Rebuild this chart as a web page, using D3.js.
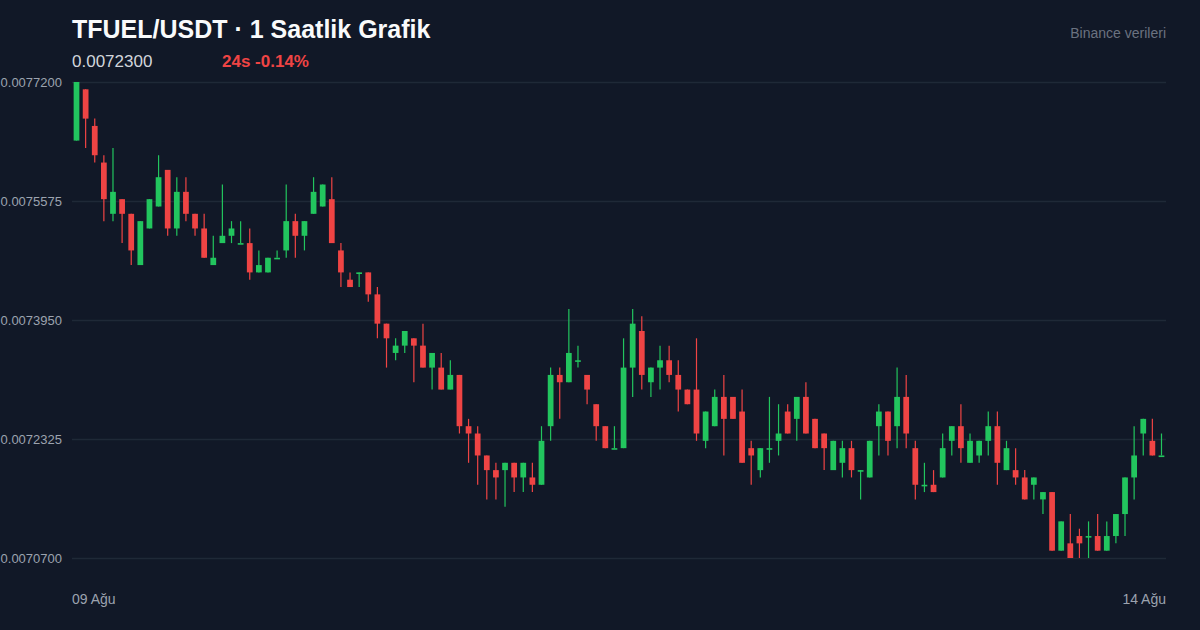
<!DOCTYPE html>
<html lang="tr">
<head>
<meta charset="UTF-8">
<title>TFUEL/USDT 1 Saatlik Grafik</title>
<script src="https://d3js.org/d3.v7.min.js"></script>
<style>
  html, body { margin: 0; padding: 0; background: #111827; }
  svg { display: block; font-family: "Liberation Sans", Arial, Helvetica, sans-serif; }
</style>
</head>
<body>
<svg width="1200" height="630"></svg>
<script>
// hourly candles, 09 Ağu -> 14 Ağu
const opens = [
  0.00764, 0.00771, 0.00766, 0.00761, 0.00754, 0.00756, 0.00754, 0.00747, 0.00752, 0.00755,
  0.00760, 0.00752, 0.00757, 0.00754, 0.00752, 0.00747, 0.00750, 0.00751, 0.00750, 0.00750,
  0.00746, 0.00746, 0.00748, 0.00749, 0.00753, 0.00751, 0.00754, 0.00755, 0.00756, 0.00749,
  0.00745, 0.00746, 0.00746, 0.00743, 0.00739, 0.00735, 0.00736, 0.00737, 0.00736, 0.00733,
  0.00733, 0.00730, 0.00732, 0.00725, 0.00724, 0.00721, 0.00719, 0.00719, 0.00720, 0.00718,
  0.00718, 0.00717, 0.00725, 0.00732, 0.00731, 0.00734, 0.00732, 0.00728, 0.00725, 0.00722,
  0.00722, 0.00733, 0.00738, 0.00731, 0.00733, 0.00734, 0.00732, 0.00730, 0.00730, 0.00723,
  0.00725, 0.00729, 0.00729, 0.00727, 0.00722, 0.00719, 0.00722, 0.00723, 0.00727, 0.00726,
  0.00729, 0.00726, 0.00724, 0.00719, 0.00720, 0.00722, 0.00719, 0.00718, 0.00725, 0.00727,
  0.00725, 0.00729, 0.00722, 0.00717, 0.00717, 0.00718, 0.00723, 0.00725, 0.00720, 0.00721,
  0.00723, 0.00725, 0.00719, 0.00719, 0.00718, 0.00717, 0.00715, 0.00716, 0.00708, 0.00709,
  0.00710, 0.00710, 0.00710, 0.00708, 0.00710, 0.00713, 0.00718, 0.00724, 0.00723, 0.00721
];
const highs = [
  0.00772, 0.00771, 0.00767, 0.00762, 0.00763, 0.00756, 0.00754, 0.00753, 0.00756, 0.00762,
  0.00760, 0.00759, 0.00759, 0.00754, 0.00754, 0.00751, 0.00758, 0.00753, 0.00753, 0.00752,
  0.00749, 0.00748, 0.00749, 0.00758, 0.00754, 0.00753, 0.00759, 0.00758, 0.00759, 0.00750,
  0.00746, 0.00746, 0.00746, 0.00744, 0.00739, 0.00737, 0.00738, 0.00737, 0.00739, 0.00735,
  0.00735, 0.00734, 0.00732, 0.00726, 0.00725, 0.00721, 0.00720, 0.00720, 0.00720, 0.00720,
  0.00720, 0.00725, 0.00733, 0.00733, 0.00741, 0.00736, 0.00732, 0.00728, 0.00725, 0.00725,
  0.00737, 0.00741, 0.00740, 0.00733, 0.00736, 0.00736, 0.00734, 0.00730, 0.00737, 0.00727,
  0.00730, 0.00732, 0.00729, 0.00730, 0.00723, 0.00722, 0.00729, 0.00728, 0.00728, 0.00729,
  0.00731, 0.00726, 0.00724, 0.00723, 0.00723, 0.00723, 0.00719, 0.00723, 0.00728, 0.00727,
  0.00733, 0.00732, 0.00723, 0.00720, 0.00719, 0.00724, 0.00725, 0.00728, 0.00724, 0.00723,
  0.00727, 0.00727, 0.00723, 0.00722, 0.00719, 0.00718, 0.00716, 0.00716, 0.00712, 0.00713,
  0.00711, 0.00712, 0.00713, 0.00712, 0.00713, 0.00718, 0.00725, 0.00726, 0.00726, 0.00724
];
const lows = [
  0.00764, 0.00763, 0.00761, 0.00753, 0.00753, 0.00750, 0.00747, 0.00747, 0.00752, 0.00755,
  0.00751, 0.00751, 0.00753, 0.00751, 0.00748, 0.00747, 0.00750, 0.00750, 0.00750, 0.00745,
  0.00746, 0.00746, 0.00748, 0.00748, 0.00748, 0.00749, 0.00754, 0.00755, 0.00750, 0.00744,
  0.00744, 0.00744, 0.00742, 0.00737, 0.00733, 0.00734, 0.00735, 0.00731, 0.00733, 0.00730,
  0.00730, 0.00730, 0.00724, 0.00720, 0.00717, 0.00715, 0.00715, 0.00714, 0.00716, 0.00716,
  0.00716, 0.00717, 0.00723, 0.00726, 0.00731, 0.00733, 0.00728, 0.00723, 0.00722, 0.00722,
  0.00722, 0.00729, 0.00730, 0.00729, 0.00730, 0.00731, 0.00727, 0.00728, 0.00723, 0.00722,
  0.00725, 0.00721, 0.00726, 0.00720, 0.00717, 0.00718, 0.00720, 0.00721, 0.00724, 0.00723,
  0.00724, 0.00722, 0.00719, 0.00719, 0.00718, 0.00718, 0.00715, 0.00718, 0.00721, 0.00721,
  0.00722, 0.00722, 0.00715, 0.00716, 0.00716, 0.00718, 0.00721, 0.00720, 0.00720, 0.00720,
  0.00721, 0.00717, 0.00719, 0.00717, 0.00715, 0.00715, 0.00713, 0.00708, 0.00708, 0.00707,
  0.00707, 0.00707, 0.00708, 0.00708, 0.00709, 0.00710, 0.00715, 0.00721, 0.00721, 0.00721
];
const closes = [
  0.00772, 0.00767, 0.00762, 0.00756, 0.00757, 0.00754, 0.00749, 0.00753, 0.00756, 0.00759,
  0.00752, 0.00757, 0.00754, 0.00752, 0.00748, 0.00748, 0.00751, 0.00752, 0.00750, 0.00746,
  0.00747, 0.00748, 0.00748, 0.00753, 0.00751, 0.00753, 0.00757, 0.00758, 0.00750, 0.00746,
  0.00744, 0.00746, 0.00743, 0.00739, 0.00737, 0.00736, 0.00738, 0.00736, 0.00733, 0.00735,
  0.00730, 0.00732, 0.00725, 0.00724, 0.00721, 0.00719, 0.00718, 0.00720, 0.00718, 0.00720,
  0.00717, 0.00723, 0.00732, 0.00731, 0.00735, 0.00734, 0.00730, 0.00725, 0.00722, 0.00722,
  0.00733, 0.00739, 0.00732, 0.00733, 0.00734, 0.00732, 0.00730, 0.00728, 0.00724, 0.00727,
  0.00729, 0.00726, 0.00726, 0.00720, 0.00721, 0.00722, 0.00722, 0.00724, 0.00724, 0.00729,
  0.00724, 0.00722, 0.00722, 0.00723, 0.00722, 0.00719, 0.00719, 0.00723, 0.00727, 0.00723,
  0.00729, 0.00724, 0.00717, 0.00717, 0.00716, 0.00722, 0.00725, 0.00722, 0.00723, 0.00723,
  0.00725, 0.00720, 0.00722, 0.00718, 0.00715, 0.00718, 0.00716, 0.00708, 0.00712, 0.00707,
  0.00709, 0.00710, 0.00708, 0.00710, 0.00713, 0.00718, 0.00721, 0.00726, 0.00721, 0.00721
];
const yTicks = [0.00707, 0.0072325, 0.007395, 0.0075575, 0.00772];
const xLabels = ["09 Ağu", "14 Ağu"];
const title = "TFUEL/USDT · 1 Saatlik Grafik";
const lastPrice = "0.0072300";
const change24 = "24s -0.14%";
const source = "Binance verileri";

const svg = d3.select("svg");
const mLeft = 72, mRight = 1166, mTop = 82, mBottom = 558;
const up = "#22c55e", down = "#ef4444";

const candles = opens.map(function (o, i) {
  return { i: i, o: o, h: highs[i], l: lows[i], c: closes[i] };
});

const x = d3.scaleBand()
  .domain(d3.range(candles.length))
  .range([mLeft, mRight])
  .paddingInner(0.37)
  .paddingOuter(0.18);

const y = d3.scaleLinear()
  .domain([0.00707, 0.00772])
  .range([mBottom, mTop]);

// grid + y labels
const yAxis = d3.axisLeft(y)
  .tickValues(yTicks)
  .tickSize(-(mRight - mLeft))
  .tickPadding(10)
  .tickFormat(d3.format(".7f"));

const gy = svg.append("g")
  .attr("transform", "translate(" + mLeft + ",0)")
  .call(yAxis);
gy.select(".domain").remove();
gy.selectAll(".tick line").attr("stroke", "#1f2937").attr("stroke-width", 1.5);
gy.selectAll(".tick text")
  .attr("fill", "#9ca3af")
  .attr("font-size", 13)
  .attr("font-family", "'Liberation Sans', Arial, sans-serif");

// candles
const g = svg.append("g");
const cx = function (d) { return x(d.i) + x.bandwidth() / 2; };
const col = function (d) { return d.c >= d.o ? up : down; };

g.selectAll("line.wick")
  .data(candles)
  .join("line")
  .attr("class", "wick")
  .attr("x1", cx).attr("x2", cx)
  .attr("y1", function (d) { return y(d.h); })
  .attr("y2", function (d) { return y(d.l); })
  .attr("stroke", col)
  .attr("stroke-width", 1.2);

g.selectAll("rect.body")
  .data(candles)
  .join("rect")
  .attr("class", "body")
  .attr("x", function (d) { return x(d.i); })
  .attr("width", x.bandwidth())
  .attr("y", function (d) { return y(Math.max(d.o, d.c)); })
  .attr("height", function (d) { return Math.max(1.6, Math.abs(y(d.o) - y(d.c))); })
  .attr("fill", col);

// header
svg.append("text")
  .attr("x", 72).attr("y", 38)
  .attr("fill", "#f9fafb")
  .attr("font-size", 25)
  .attr("font-weight", 700)
  .text(title);

svg.append("text")
  .attr("x", 72).attr("y", 67)
  .attr("fill", "#d1d5db")
  .attr("font-size", 17)
  .text(lastPrice);

svg.append("text")
  .attr("x", 222).attr("y", 67)
  .attr("fill", down)
  .attr("font-size", 17)
  .attr("font-weight", 700)
  .text(change24);

svg.append("text")
  .attr("x", 1166).attr("y", 38)
  .attr("text-anchor", "end")
  .attr("fill", "#6b7280")
  .attr("font-size", 14)
  .text(source);

// x labels
svg.selectAll("text.xl")
  .data(xLabels)
  .join("text")
  .attr("class", "xl")
  .attr("x", function (d, i) { return i === 0 ? mLeft : mRight; })
  .attr("y", 604)
  .attr("text-anchor", function (d, i) { return i === 0 ? "start" : "end"; })
  .attr("fill", "#9ca3af")
  .attr("font-size", 14)
  .text(function (d) { return d; });
</script>
</body>
</html>
